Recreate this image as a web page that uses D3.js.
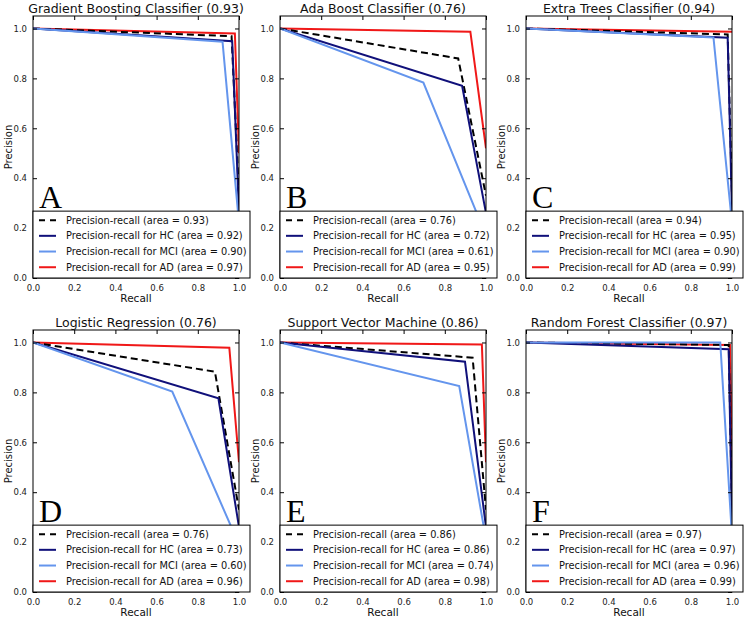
<!DOCTYPE html>
<html><head><meta charset="utf-8">
<script src="https://cdn.jsdelivr.net/npm/d3@7"></script>
<style>body{margin:0;background:#fff;} svg{display:block;}</style>
</head><body>
<script>
const titles = ["Gradient Boosting Classifier (0.93)","Ada Boost Classifier (0.76)","Extra Trees Classifier (0.94)",
  "Logistic Regression (0.76)","Support Vector Machine (0.86)","Random Forest Classifier (0.97)"];
const letters = ["A","B","C","D","E","F"];
const xTicks = [0,0.2,0.4,0.6,0.8,1.0];
const yTicks = [0,0.2,0.4,0.6,0.8,1.0];
// [recall, precision] points per panel
const microPts = [
  [[0,1],[0.964,0.969],[1,0.33]],
  [[0,1],[0.865,0.88],[1,0.33]],
  [[0,1],[0.979,0.976],[1,0.33]],
  [[0,1],[0.883,0.883],[1,0.33]],
  [[0,1],[0.935,0.939],[1,0.33]],
  [[0,1],[0.984,0.99],[1,0.33]]];
const hcPts = [
  [[0,1],[0.967,0.949],[1,0.26]],
  [[0,1],[0.884,0.77],[1,0.26]],
  [[0,1],[0.979,0.963],[1,0.26]],
  [[0,1],[0.9,0.776],[1,0.26]],
  [[0,1],[0.898,0.923],[1,0.26]],
  [[0,1],[0.984,0.973],[1,0.26]]];
const mciPts = [
  [[0,1],[0.92,0.947],[1,0.22]],
  [[0,1],[0.696,0.783],[1,0.17]],
  [[0,1],[0.91,0.964],[1,0.22]],
  [[0,1],[0.676,0.803],[1,0.19]],
  [[0,1],[0.87,0.825],[1,0.21]],
  [[0,1],[0.943,1.0],[1,0.22]]];
const adPts = [
  [[0,1],[0.98,0.98],[1,0.5]],
  [[0,1],[0.924,0.987],[1,0.52]],
  [[0,1],[1,0.987]],
  [[0,1],[0.953,0.979],[1,0.52]],
  [[0,1],[0.98,0.992],[1,0.52]],
  [[0,1],[0.99,0.99],[1,0.52]]];
const microArea = ["0.93","0.76","0.94","0.76","0.86","0.97"];
const hcArea = ["0.92","0.72","0.95","0.73","0.86","0.97"];
const mciArea = ["0.90","0.61","0.90","0.60","0.74","0.96"];
const adArea = ["0.97","0.95","0.99","0.96","0.98","0.99"];

const W = 749, H = 619;
const svg = d3.select("body").append("svg").attr("width", W).attr("height", H);
const colLeft = [33, 280, 526];
const rowTop = [16, 330];
const pw = 206, ph = 262;
const font = "DejaVu Sans, sans-serif";

const seriesDefs = [
  {pts: microPts, area: microArea, color: "#000", dash: "7,4", label: a => `Precision-recall (area = ${a})`},
  {pts: hcPts, area: hcArea, color: "#10107a", dash: null, label: a => `Precision-recall for HC (area = ${a})`},
  {pts: mciPts, area: mciArea, color: "#6495ed", dash: null, label: a => `Precision-recall for MCI (area = ${a})`},
  {pts: adPts, area: adArea, color: "#f01818", dash: null, label: a => `Precision-recall for AD (area = ${a})`}
];
const drawOrder = [3, 0, 1, 2];

titles.forEach((t, i) => {
  const col = i % 3, row = Math.floor(i / 3);
  const x0 = colLeft[col], y0 = rowTop[row];
  const g = svg.append("g").attr("transform", `translate(${x0},${y0})`);
  const x = d3.scaleLinear().domain([0, 1]).range([0, pw]);
  const y = d3.scaleLinear().domain([0, 1.05]).range([ph, 0]);

  g.append("defs").append("clipPath").attr("id", "clip" + i)
    .append("rect").attr("width", pw).attr("height", ph);

  const line = d3.line().x(d => x(d[0])).y(d => y(d[1]));
  const lg = g.append("g").attr("clip-path", `url(#clip${i})`);
  drawOrder.forEach(k => {
    const s = seriesDefs[k];
    lg.append("path").attr("d", line(s.pts[i])).attr("fill", "none")
      .attr("stroke", s.color).attr("stroke-width", 2)
      .attr("stroke-dasharray", s.dash).attr("stroke-linejoin", "miter");
  });

  // axes
  const xa = g.append("g").attr("transform", `translate(0,${ph})`)
    .call(d3.axisBottom(x).tickValues(xTicks).tickFormat(d3.format(".1f")).tickSizeInner(-4).tickSizeOuter(0).tickPadding(7));
  const xt = g.append("g").call(d3.axisTop(x).tickValues(xTicks).tickFormat("").tickSizeInner(-4).tickSizeOuter(0));
  const ya = g.append("g")
    .call(d3.axisLeft(y).tickValues(yTicks).tickFormat(d3.format(".1f")).tickSizeInner(-4).tickSizeOuter(0).tickPadding(6));
  const yr = g.append("g").attr("transform", `translate(${pw},0)`)
    .call(d3.axisRight(y).tickValues(yTicks).tickFormat("").tickSizeInner(-4).tickSizeOuter(0));
  [xa, xt, ya, yr].forEach(a => {
    a.select(".domain").remove();
    a.selectAll("text").attr("font-family", font).attr("font-size", 8.5).attr("fill", "#222");
    a.selectAll("line").attr("stroke", "#000");
  });
  g.append("rect").attr("width", pw).attr("height", ph).attr("fill", "none").attr("stroke", "#000").attr("stroke-width", 1);

  g.append("text").attr("x", pw / 2).attr("y", -3).attr("text-anchor", "middle")
    .attr("font-family", font).attr("font-size", 12.5).attr("fill", "#111").text(t);
  g.append("text").attr("x", pw / 2).attr("y", ph + 24).attr("text-anchor", "middle")
    .attr("font-family", font).attr("font-size", 10.5).attr("fill", "#111").text("Recall");
  g.append("text").attr("transform", `translate(${-21},${ph / 2}) rotate(-90)`).attr("text-anchor", "middle")
    .attr("font-family", font).attr("font-size", 10).attr("fill", "#111").text("Precision");

  // letter
  g.append("text").attr("x", 6).attr("y", y(0.268) - 3).attr("font-family", "Liberation Serif, Times New Roman, serif")
    .attr("font-size", 32).attr("fill", "#000").text(letters[i]);

  // legend
  const legTop = y(0.268);
  const leg = g.append("g").attr("transform", `translate(0,${legTop})`);
  leg.append("rect").attr("x", 0).attr("y", 0).attr("width", 217).attr("height", ph - legTop)
    .attr("fill", "#fff").attr("stroke", "#000").attr("stroke-width", 1);
  seriesDefs.forEach((s, k) => {
    const yy = 9 + k * 15.7;
    leg.append("line").attr("x1", 6).attr("x2", 23).attr("y1", yy).attr("y2", yy)
      .attr("stroke", s.color).attr("stroke-width", 2).attr("stroke-dasharray", s.dash ? "6,5" : null);
    leg.append("text").attr("x", 33).attr("y", yy).attr("dy", "0.35em")
      .attr("font-family", font).attr("font-size", 9.8).attr("fill", "#111").text(s.label(s.area[i]));
  });
});
</script>
</body></html>
